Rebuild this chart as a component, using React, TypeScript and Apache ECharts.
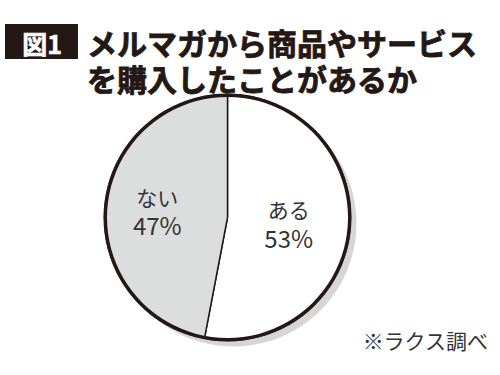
import React, { useEffect, useRef } from "react";
import * as echarts from "echarts";

const titleBadge = "図1";
const titleLines = ["メルマガから商品やサービス", "を購入したことがあるか"];
const sliceNames = ["ある", "ない"];
const sliceValues = [53, 47];
const sliceColors = ["#ffffff", "#dcdddd"];
const sourceNote = "※ラクス調べ";

const FONT = "'Noto Sans CJK JP', 'Noto Sans', sans-serif";
const INK = "#231815";

export default function App() {
  const ref = useRef<HTMLDivElement>(null);
  useEffect(() => {
    if (!ref.current) return;
    const chart = echarts.init(ref.current, undefined, { renderer: "svg" });
    const cx = 227.5;
    const cy = 217.5;
    const R = 124;
    const titleTexts = titleLines.map((t, i) => ({
      type: "text",
      x: 87,
      y: 41.5 + i * 36,
      style: {
        text: t,
        fill: INK,
        font: `bold 30px ${FONT}`,
        align: "left",
        verticalAlign: "middle",
        stroke: INK,
        lineWidth: 0.8,
      },
    }));
    chart.setOption({
      animation: false,
      backgroundColor: "#ffffff",
      graphic: [
        {
          type: "rect",
          shape: { x: 5, y: 24, width: 73, height: 35 },
          style: { fill: INK },
        },
        {
          type: "text",
          x: 42,
          y: 43,
          style: {
            text: titleBadge,
            fill: "#ffffff",
            font: `bold 25px ${FONT}`,
            align: "center",
            verticalAlign: "middle",
            stroke: "#ffffff",
            lineWidth: 0.6,
          },
        },
        ...titleTexts,
        {
          type: "text",
          x: 488,
          y: 340,
          style: {
            text: sourceNote,
            fill: "#333333",
            font: `normal 21px ${FONT}`,
            align: "right",
            verticalAlign: "middle",
          },
        },
      ],
      series: [
        {
          type: "pie",
          silent: true,
          center: [cx + 6, cy + 6],
          radius: R - 1,
          z: 1,
          label: { show: false },
          labelLine: { show: false },
          itemStyle: { color: "#d6d6d6" },
          data: [{ value: 1, name: "shadow" }],
        },
        {
          type: "pie",
          silent: true,
          center: [cx, cy],
          radius: R - 1,
          startAngle: 90,
          clockwise: true,
          z: 2,
          itemStyle: { borderColor: INK, borderWidth: 1.5 },
          label: {
            show: true,
            position: "inside",
            formatter: (p: any) => `{n|${p.name}}\n{p|${p.value}%}`,
            align: "center",
            rich: {
              n: {
                fontFamily: FONT,
                fontSize: 21,
                lineHeight: 27,
                color: "#333333",
                align: "center",
              },
              p: {
                fontFamily: FONT,
                fontSize: 24,
                lineHeight: 29,
                color: "#333333",
                align: "center",
              },
            },
          },
          labelLine: { show: false },
          data: sliceNames.map((n, i) => ({
            name: n,
            value: sliceValues[i],
            itemStyle: { color: sliceColors[i] },
            label: { offset: i === 1 ? [-6, 0] : [-3, 0] },
          })),
        },
        {
          type: "pie",
          silent: true,
          center: [cx, cy],
          radius: [R - 3.5, R],
          z: 3,
          label: { show: false },
          labelLine: { show: false },
          itemStyle: { color: INK },
          data: [{ value: 1, name: "ring" }],
        },
      ],
    });
    return () => chart.dispose();
  }, []);
  return (
    <div
      ref={ref}
      style={{ position: "absolute", left: 0, top: 0, width: 500, height: 375 }}
    />
  );
}
